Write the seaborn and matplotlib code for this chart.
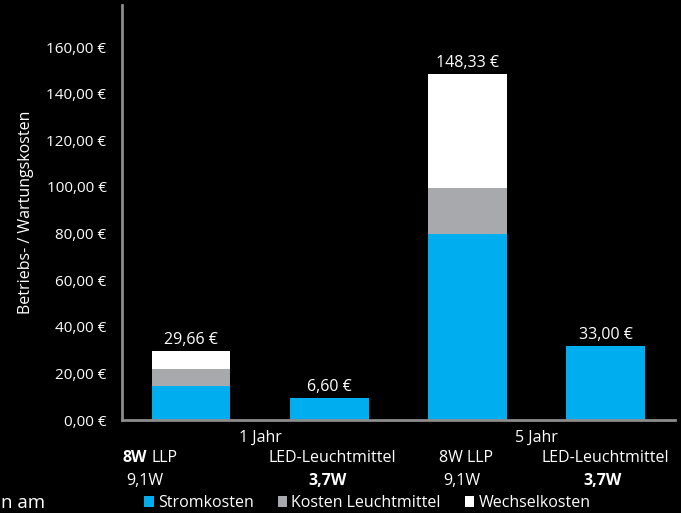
import matplotlib
matplotlib.use("Agg")
import matplotlib.pyplot as plt
import matplotlib.patches as mpatches
import matplotlib.transforms as mtransforms
import seaborn as sns
import pandas as pd

# data
bars = ["1J_LLP", "1J_LED", "5J_LLP", "5J_LED"]
stromkosten = [14.5, 9.3, 80.0, 31.8]
kosten_leuchtmittel = [7.4, 0.0, 19.6, 0.0]
wechselkosten = [7.8, 0.0, 48.9, 0.0]
total_labels = ["29,66 €", "6,60 €", "148,33 €", "33,00 €"]
group_labels = ["1 Jahr", "5 Jahr"]
lamp_names = ["LLP", "LED-Leuchtmittel", "8W LLP", "LED-Leuchtmittel"]
lamp_watts = ["9,1W", "3,7W", "9,1W", "3,7W"]
yticks = [0, 20, 40, 60, 80, 100, 120, 140, 160]

series_names = ["Stromkosten", "Kosten Leuchtmittel", "Wechselkosten"]
colors = ["#00AEEF", "#A7A9AC", "#FFFFFF"]

sns.set_style("dark")
plt.rcParams["font.family"] = ["Open Sans", "DejaVu Sans"]
FS = 11.5

fig = plt.figure(figsize=(6.81, 5.13), dpi=100, facecolor="black")
ax = fig.add_axes([0.179, 0.181, 0.812, 0.809])
ax.set_facecolor("black")

df = pd.DataFrame({"bar": bars, "s1": stromkosten, "s2": kosten_leuchtmittel, "s3": wechselkosten})
df["c1"] = df["s1"]
df["c2"] = df["s1"] + df["s2"]
df["c3"] = df["c2"] + df["s3"]

# stacked bars: draw cumulative totals from top to bottom
for col, color in zip(["c3", "c2", "c1"], colors[::-1]):
    sns.barplot(data=df, x="bar", y=col, order=bars, color=color, width=0.57,
                saturation=1, linewidth=0, ax=ax)

# totals above bars
for i, (tot, lab) in enumerate(zip(df["c3"], total_labels)):
    ax.annotate(lab, (i, tot), xytext=(0, 8), textcoords="offset points",
                ha="center", va="center", color="white", fontsize=FS)

ax.set_ylim(0, 178)
ax.set_xlim(-0.5, 3.5)
ax.set_yticks(yticks)
ax.set_yticklabels([f"{v:,.2f} €".replace(".", ",") for v in yticks], color="white", fontsize=11)
ax.tick_params(axis="y", length=0, pad=11)
ax.tick_params(axis="x", length=0)
ax.set_xticks([])
ax.set_xlabel("")
ax.set_ylabel("Betriebs- / Wartungskosten", color="white", fontsize=FS, labelpad=9)
ax.grid(False)

for side in ["top", "right"]:
    ax.spines[side].set_visible(False)
for side in ["left", "bottom"]:
    ax.spines[side].set_visible(True)
    ax.spines[side].set_color("#8C8C8C")
    ax.spines[side].set_linewidth(2)

# multi-row category labels below the axis
trans = mtransforms.blended_transform_factory(ax.transData, ax.transAxes)
for g, lab in enumerate(group_labels):
    ax.text(2 * g + 0.5, -0.043, lab, transform=trans, ha="center", va="center",
            color="white", fontsize=FS)

name_dx = [-0.30, 0.025, -0.01, 0.0]
watt_dx = [-0.336, -0.01, -0.04, -0.02]
for i, (name, watt) in enumerate(zip(lamp_names, lamp_watts)):
    if i == 0:
        ax.annotate("8W", (i + name_dx[i], -0.092), xycoords=trans, xytext=(-1.5, 0),
                    textcoords="offset points", ha="right", va="center",
                    color="white", fontsize=FS, fontweight="bold")
        ax.annotate(name, (i + name_dx[i], -0.092), xycoords=trans, xytext=(1.5, 0),
                    textcoords="offset points", ha="left", va="center",
                    color="white", fontsize=FS)
    else:
        ax.text(i + name_dx[i], -0.092, name, transform=trans, ha="center", va="center",
                color="white", fontsize=FS)
    ax.text(i + watt_dx[i], -0.147, watt, transform=trans, ha="center", va="center",
            color="white", fontsize=FS, fontweight="bold" if watt == "3,7W" else "normal")

handles = [mpatches.Patch(facecolor=c, edgecolor="none", label=n) for c, n in zip(colors, series_names)]
leg = ax.legend(handles=handles, ncol=3, loc="center", bbox_to_anchor=(0.444, -0.2),
                frameon=False, fontsize=FS, handlelength=0.6, handleheight=0.6,
                handletextpad=0.25, columnspacing=1.5, labelcolor="white",
                borderpad=0, borderaxespad=0)

fig.text(0.002, 0.02, "n am", color="white", fontsize=13.5, ha="left", va="center")

fig.savefig("out.png", dpi=100, facecolor="black")
